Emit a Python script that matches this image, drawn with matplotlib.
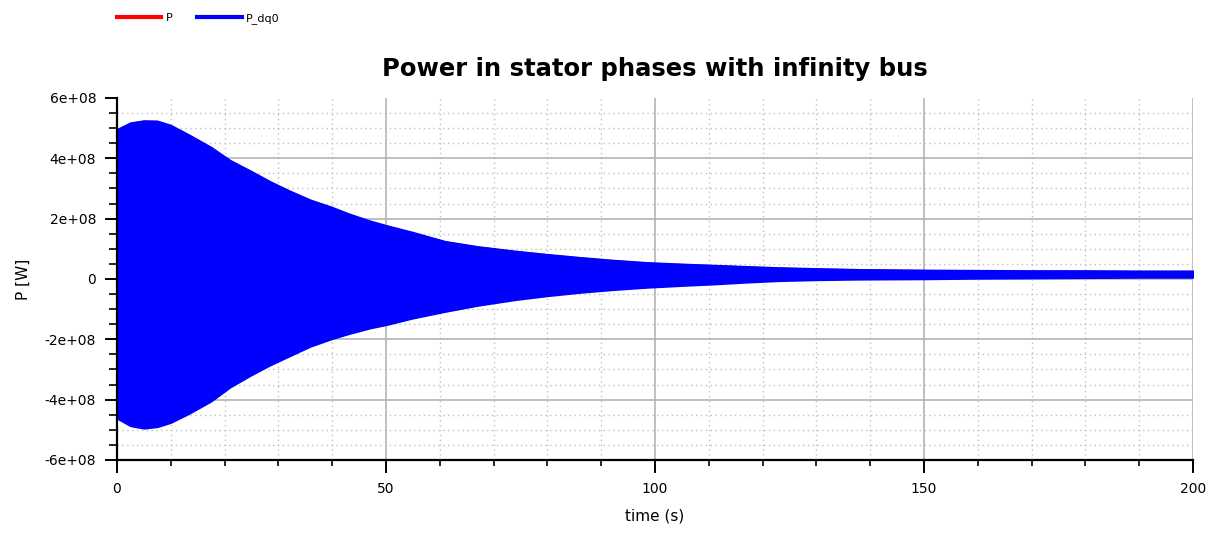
import matplotlib
matplotlib.use('Agg')
import matplotlib.pyplot as plt
from matplotlib.lines import Line2D
from matplotlib.ticker import FixedLocator, MultipleLocator
import numpy as np

# envelope of the oscillating stator power (units of 1e8 W)
time_s = [0, 2.5, 5, 7.5, 10, 13.5, 17.5, 21, 25, 28.5, 32, 36, 40, 43, 47,
          50, 55, 61, 67, 74, 80, 86, 92, 98.5, 105, 111, 117, 123, 130, 138,
          150, 160, 170, 180, 190, 200]
p_upper = [4.96, 5.18, 5.25, 5.24, 5.10, 4.77, 4.37, 3.94, 3.57, 3.23, 2.93,
           2.62, 2.38, 2.17, 1.93, 1.78, 1.55, 1.25, 1.08, 0.93, 0.82, 0.72,
           0.63, 0.55, 0.50, 0.46, 0.42, 0.38, 0.35, 0.32, 0.30, 0.29, 0.28,
           0.28, 0.27, 0.27]
p_lower = [-4.62, -4.87, -4.95, -4.90, -4.76, -4.45, -4.05, -3.59, -3.18,
           -2.85, -2.56, -2.23, -1.98, -1.82, -1.63, -1.52, -1.30, -1.08,
           -0.88, -0.69, -0.56, -0.45, -0.36, -0.28, -0.22, -0.17, -0.11,
           -0.06, -0.03, -0.01, 0.00, 0.02, 0.03, 0.04, 0.05, 0.05]
scale = 1e8

x_ticks = [0, 50, 100, 150, 200]
y_ticks = [-6e8, -4e8, -2e8, 0, 2e8, 4e8, 6e8]
y_labels = ['-6e+08', '-4e+08', '-2e+08', '0', '2e+08', '4e+08', '6e+08']

series = ['P', 'P_dq0']
colors = ['#ff0000', '#0000ff']

fig = plt.figure(figsize=(12.16, 5.34), dpi=100)
ax = fig.add_axes([0.0962, 0.1386, 0.8848, 0.678])

t = np.array(time_s)
up = np.array(p_upper) * scale
lo = np.array(p_lower) * scale
# P lies underneath P_dq0, so only the blue one shows
ax.fill_between(t, lo, up, facecolor=colors[0], linewidth=0, zorder=1.5)
ax.fill_between(t, lo, up, facecolor=colors[1], edgecolor=colors[1],
                linewidth=1.2, zorder=2)

ax.set_xlim(0, 200)
ax.set_ylim(-6e8, 6e8)
ax.xaxis.set_major_locator(FixedLocator(x_ticks))
ax.xaxis.set_minor_locator(MultipleLocator(10))
ax.yaxis.set_major_locator(FixedLocator(y_ticks))
ax.yaxis.set_minor_locator(MultipleLocator(0.5e8))
ax.set_xticklabels([str(v) for v in x_ticks])
ax.set_yticklabels(y_labels)

ax.grid(which='major', color='#b4b4b4', linestyle='-', linewidth=1.2, zorder=0)
ax.grid(which='minor', color='#c0c0c0', linestyle=(0, (1, 2.5)), linewidth=1.0, zorder=0)
ax.set_axisbelow(True)
ax.get_ygridlines()[-1].set_visible(False)

for s in ['top', 'right']:
    ax.spines[s].set_visible(False)
for s in ['left', 'bottom']:
    ax.spines[s].set_linewidth(1.6)
    ax.spines[s].set_zorder(3)

ax.tick_params(axis='both', which='major', width=1.4, labelsize=10, colors='black')
ax.tick_params(axis='x', which='major', length=9, pad=7)
ax.tick_params(axis='x', which='minor', length=4.5, width=1.2)
ax.tick_params(axis='y', which='major', length=8.5, pad=6.5)
ax.tick_params(axis='y', which='minor', length=6, width=1.2)

ax.set_xlabel('time (s)', fontsize=11, labelpad=9)
ax.set_ylabel('P [W]', fontsize=11, labelpad=10)
ax.set_title('Power in stator phases with infinity bus', fontsize=17.5,
             fontweight='bold', pad=16)

handles = [Line2D([], [], color=c, linewidth=3) for c in colors]
fig.legend(handles, series, loc='upper left', bbox_to_anchor=(0.088, 0.994),
           ncol=2, frameon=False, fontsize=8, handlelength=4,
           columnspacing=2.2, handletextpad=0.4)

plt.savefig('out.png', dpi=100)
